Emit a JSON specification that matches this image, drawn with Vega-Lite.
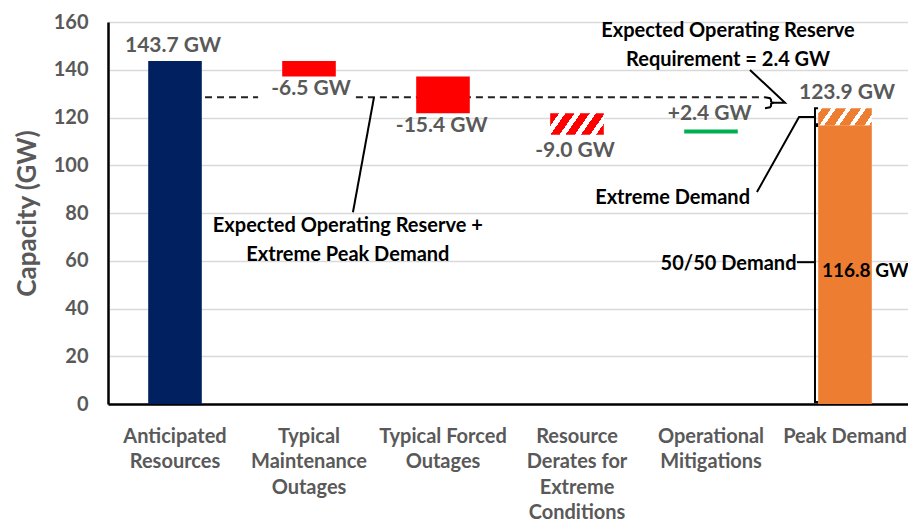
{
  "$schema": "https://vega.github.io/schema/vega-lite/v6.json",
  "width": 804,
  "height": 382,
  "autosize": "none",
  "padding": {"left": 108, "top": 22, "right": 0, "bottom": 118},
  "background": "white",
  "config": {"view": {"stroke": null}, "font": "Lato"},
  "datasets": {
    "bars": [
      {"cat": "Anticipated Resources", "start": 0, "end": 143.7, "kind": "resource"},
      {"cat": "Typical Maintenance Outages", "start": 143.7, "end": 137.2, "kind": "outage"},
      {"cat": "Typical Forced Outages", "start": 137.2, "end": 121.8, "kind": "outage"},
      {"cat": "Resource Derates for Extreme Conditions", "start": 121.8, "end": 112.8, "kind": "derate"},
      {"cat": "Operational Mitigations", "start": 113.3, "end": 115.0, "kind": "mitigation"},
      {"cat": "Peak Demand", "start": 0, "end": 116.8, "kind": "demand"},
      {"cat": "Peak Demand", "start": 116.8, "end": 123.9, "kind": "extreme"}
    ],
    "dash": [
      {"g": "dash1", "seq": 1, "x": 0.724, "y": 128.5},
      {"g": "dash1", "seq": 2, "x": 1.12, "y": 128.5},
      {"g": "dash2", "seq": 1, "x": 1.85, "y": 128.5},
      {"g": "dash2", "seq": 2, "x": 4.903, "y": 128.5}
    ],
    "paths": [
      {"g": "p1", "seq": 1, "x": 1.985, "y": 128.5},
      {"g": "p1", "seq": 2, "x": 1.828, "y": 80.3},
      {"g": "br", "seq": 1, "x": 4.903, "y": 128.5},
      {"g": "br", "seq": 2, "x": 4.94, "y": 128.1},
      {"g": "br", "seq": 3, "x": 4.948, "y": 127.4},
      {"g": "br", "seq": 4, "x": 4.948, "y": 126.7},
      {"g": "br", "seq": 5, "x": 4.963, "y": 126.2},
      {"g": "br", "seq": 6, "x": 4.948, "y": 125.7},
      {"g": "br", "seq": 7, "x": 4.948, "y": 124.9},
      {"g": "br", "seq": 8, "x": 4.94, "y": 124.3},
      {"g": "br", "seq": 9, "x": 4.903, "y": 123.9},
      {"g": "p2", "seq": 1, "x": 4.963, "y": 126.2},
      {"g": "p2", "seq": 2, "x": 5.052, "y": 126.2},
      {"g": "p2", "seq": 3, "x": 4.791, "y": 139.9},
      {"g": "p3", "seq": 1, "x": 4.843, "y": 88.8},
      {"g": "p3", "seq": 2, "x": 5.157, "y": 120.2},
      {"g": "p3", "seq": 3, "x": 5.276, "y": 120.2},
      {"g": "b1", "seq": 1, "x": 5.299, "y": 123.9},
      {"g": "b1", "seq": 2, "x": 5.276, "y": 123.9},
      {"g": "b1", "seq": 3, "x": 5.276, "y": 117.2},
      {"g": "b1", "seq": 4, "x": 5.299, "y": 117.2},
      {"g": "b2", "seq": 1, "x": 5.299, "y": 116.4},
      {"g": "b2", "seq": 2, "x": 5.276, "y": 116.4},
      {"g": "b2", "seq": 3, "x": 5.276, "y": 0.8},
      {"g": "b2", "seq": 4, "x": 5.299, "y": 0.8},
      {"g": "p4", "seq": 1, "x": 5.142, "y": 59.4},
      {"g": "p4", "seq": 2, "x": 5.276, "y": 59.4}
    ],
    "valueLabels": [
      {"text": "143.7 GW", "x": 0.485, "y": 150.0},
      {"text": "-6.5 GW", "x": 1.515, "y": 132.0},
      {"text": "-15.4 GW", "x": 2.49, "y": 116.5},
      {"text": "-9.0 GW", "x": 3.485, "y": 106.0},
      {"text": "+2.4 GW", "x": 4.49, "y": 121.5},
      {"text": "123.9 GW", "x": 5.515, "y": 130.3}
    ],
    "notesCenter": [
      {"text": "Expected Operating Reserve +", "x": 1.79, "y": 74.6},
      {"text": "Extreme Peak Demand", "x": 1.79, "y": 62.6},
      {"text": "Expected Operating Reserve", "x": 4.627, "y": 156.4},
      {"text": "Requirement = 2.4 GW", "x": 4.627, "y": 144.1}
    ],
    "notesRight": [
      {"text": "Extreme Demand", "x": 4.791, "y": 86.3},
      {"text": "50/50 Demand", "x": 5.138, "y": 58.6}
    ],
    "notesLeft": [
      {"text": "116.8 GW", "x": 5.328, "y": 55.8}
    ]
  },
  "layer": [
    {
      "data": {"name": "dash"},
      "mark": {"type": "line", "color": "#222222", "strokeWidth": 2, "strokeDash": [7, 5]},
      "encoding": {
        "x": {"field": "x", "type": "quantitative", "scale": {"domain": [0, 6], "nice": false, "zero": false}, "axis": null},
        "y": {
          "field": "y", "type": "quantitative",
          "scale": {"domain": [0, 160]},
          "axis": {
            "title": "Capacity (GW)", "values": [0, 20, 40, 60, 80, 100, 120, 140, 160],
            "grid": true, "gridColor": "#D9D9D9", "gridWidth": 1.5, "ticks": false,
            "domainColor": "#000000", "domainWidth": 2.5,
            "labelFont": "Lato", "labelFontSize": 20, "labelFontWeight": "bold", "labelColor": "#595959", "labelPadding": 20,
            "titleFont": "Lato", "titleFontSize": 26, "titleFontWeight": "bold", "titleColor": "#595959", "titlePadding": 13
          }
        },
        "detail": {"field": "g"},
        "order": {"field": "seq"}
      }
    },
    {
      "data": {"name": "bars"},
      "transform": [{"filter": "datum.kind != 'derate' && datum.kind != 'extreme'"}],
      "mark": {"type": "bar"},
      "encoding": {
        "x": {
          "field": "cat", "type": "nominal",
          "scale": {"domain": ["Anticipated Resources", "Typical Maintenance Outages", "Typical Forced Outages", "Resource Derates for Extreme Conditions", "Operational Mitigations", "Peak Demand"], "paddingInner": 0.6, "paddingOuter": 0.3},
          "axis": {
            "title": null, "labelAngle": 0, "ticks": false, "domainColor": "#000000", "domainWidth": 2.5,
            "labelFont": "Lato", "labelFontSize": 20, "labelFontWeight": "bold", "labelColor": "#595959",
            "labelLineHeight": 25.5, "labelPadding": 22, "labelBaseline": "top", "labelOverlap": false, "labelLimit": 300,
            "labelExpr": "datum.value == 'Anticipated Resources' ? ['Anticipated', 'Resources'] : datum.value == 'Typical Maintenance Outages' ? ['Typical', 'Maintenance', 'Outages'] : datum.value == 'Typical Forced Outages' ? ['Typical Forced', 'Outages'] : datum.value == 'Resource Derates for Extreme Conditions' ? ['Resource', 'Derates for', 'Extreme', 'Conditions'] : datum.value == 'Operational Mitigations' ? ['Operational', 'Mitigations'] : datum.value"
          }
        },
        "y": {"field": "start", "type": "quantitative", "axis": null},
        "y2": {"field": "end"},
        "color": {
          "field": "kind", "type": "nominal", "legend": null,
          "scale": {"domain": ["resource", "outage", "mitigation", "demand"], "range": ["#002060", "#FF0000", "#00B050", "#ED7D31"]}
        }
      }
    },
    {
      "data": {"name": "bars"},
      "transform": [{"filter": "datum.kind == 'derate'"}],
      "mark": {
        "type": "bar",
        "fill": {"gradient": "linear", "x1": 0, "y1": 0, "x2": 1.187, "y2": 0.333, "stops": [
          {"offset": 0, "color": "#FF0000"}, {"offset": 0.13, "color": "#FF0000"},
          {"offset": 0.13, "color": "#FFFFFF"}, {"offset": 0.222, "color": "#FFFFFF"},
          {"offset": 0.222, "color": "#FF0000"}, {"offset": 0.355, "color": "#FF0000"},
          {"offset": 0.355, "color": "#FFFFFF"}, {"offset": 0.444, "color": "#FFFFFF"},
          {"offset": 0.444, "color": "#FF0000"}, {"offset": 0.577, "color": "#FF0000"},
          {"offset": 0.577, "color": "#FFFFFF"}, {"offset": 0.666, "color": "#FFFFFF"},
          {"offset": 0.666, "color": "#FF0000"}, {"offset": 0.799, "color": "#FF0000"},
          {"offset": 0.799, "color": "#FFFFFF"}, {"offset": 0.888, "color": "#FFFFFF"},
          {"offset": 0.888, "color": "#FF0000"}, {"offset": 1, "color": "#FF0000"}
        ]}
      },
      "encoding": {
        "x": {"field": "cat", "type": "nominal", "scale": {"domain": ["Anticipated Resources", "Typical Maintenance Outages", "Typical Forced Outages", "Resource Derates for Extreme Conditions", "Operational Mitigations", "Peak Demand"], "paddingInner": 0.6, "paddingOuter": 0.3}, "axis": null},
        "y": {"field": "start", "type": "quantitative", "axis": null},
        "y2": {"field": "end"}
      }
    },
    {
      "data": {"name": "bars"},
      "transform": [{"filter": "datum.kind == 'extreme'"}],
      "mark": {
        "type": "bar",
        "fill": {"gradient": "linear", "x1": 0, "y1": 0, "x2": 1.165, "y2": 0.259, "stops": [
          {"offset": 0, "color": "#FFFFFF"}, {"offset": 0.06, "color": "#FFFFFF"},
          {"offset": 0.06, "color": "#ED7D31"}, {"offset": 0.2, "color": "#ED7D31"},
          {"offset": 0.2, "color": "#FFFFFF"}, {"offset": 0.275, "color": "#FFFFFF"},
          {"offset": 0.275, "color": "#ED7D31"}, {"offset": 0.429, "color": "#ED7D31"},
          {"offset": 0.429, "color": "#FFFFFF"}, {"offset": 0.504, "color": "#FFFFFF"},
          {"offset": 0.504, "color": "#ED7D31"}, {"offset": 0.658, "color": "#ED7D31"},
          {"offset": 0.658, "color": "#FFFFFF"}, {"offset": 0.733, "color": "#FFFFFF"},
          {"offset": 0.733, "color": "#ED7D31"}, {"offset": 0.887, "color": "#ED7D31"},
          {"offset": 0.887, "color": "#FFFFFF"}, {"offset": 0.962, "color": "#FFFFFF"},
          {"offset": 0.962, "color": "#ED7D31"}, {"offset": 1, "color": "#ED7D31"}
        ]}
      },
      "encoding": {
        "x": {"field": "cat", "type": "nominal", "scale": {"domain": ["Anticipated Resources", "Typical Maintenance Outages", "Typical Forced Outages", "Resource Derates for Extreme Conditions", "Operational Mitigations", "Peak Demand"], "paddingInner": 0.6, "paddingOuter": 0.3}, "axis": null},
        "y": {"field": "start", "type": "quantitative", "axis": null},
        "y2": {"field": "end"}
      }
    },
    {
      "data": {"name": "paths"},
      "mark": {"type": "line", "color": "#000000", "strokeWidth": 2},
      "encoding": {
        "x": {"field": "x", "type": "quantitative", "scale": {"domain": [0, 6], "nice": false, "zero": false}, "axis": null},
        "y": {"field": "y", "type": "quantitative", "axis": null},
        "detail": {"field": "g"},
        "order": {"field": "seq"}
      }
    },
    {
      "data": {"name": "valueLabels"},
      "mark": {"type": "text", "font": "Lato", "fontSize": 21, "fontWeight": "bold", "color": "#595959", "align": "center", "baseline": "middle"},
      "encoding": {
        "x": {"field": "x", "type": "quantitative", "scale": {"domain": [0, 6], "nice": false, "zero": false}, "axis": null},
        "y": {"field": "y", "type": "quantitative", "axis": null},
        "text": {"field": "text"}
      }
    },
    {
      "data": {"name": "notesCenter"},
      "mark": {"type": "text", "font": "Lato", "fontSize": 20, "fontWeight": "bold", "color": "#000000", "align": "center", "baseline": "middle"},
      "encoding": {
        "x": {"field": "x", "type": "quantitative", "scale": {"domain": [0, 6], "nice": false, "zero": false}, "axis": null},
        "y": {"field": "y", "type": "quantitative", "axis": null},
        "text": {"field": "text"}
      }
    },
    {
      "data": {"name": "notesRight"},
      "mark": {"type": "text", "font": "Lato", "fontSize": 20, "fontWeight": "bold", "color": "#000000", "align": "right", "baseline": "middle"},
      "encoding": {
        "x": {"field": "x", "type": "quantitative", "scale": {"domain": [0, 6], "nice": false, "zero": false}, "axis": null},
        "y": {"field": "y", "type": "quantitative", "axis": null},
        "text": {"field": "text"}
      }
    },
    {
      "data": {"name": "notesLeft"},
      "mark": {"type": "text", "font": "Lato", "fontSize": 19, "fontWeight": "bold", "color": "#000000", "align": "left", "baseline": "middle"},
      "encoding": {
        "x": {"field": "x", "type": "quantitative", "scale": {"domain": [0, 6], "nice": false, "zero": false}, "axis": null},
        "y": {"field": "y", "type": "quantitative", "axis": null},
        "text": {"field": "text"}
      }
    }
  ],
  "resolve": {"scale": {"x": "independent"}, "axis": {"x": "independent", "y": "independent"}}
}
